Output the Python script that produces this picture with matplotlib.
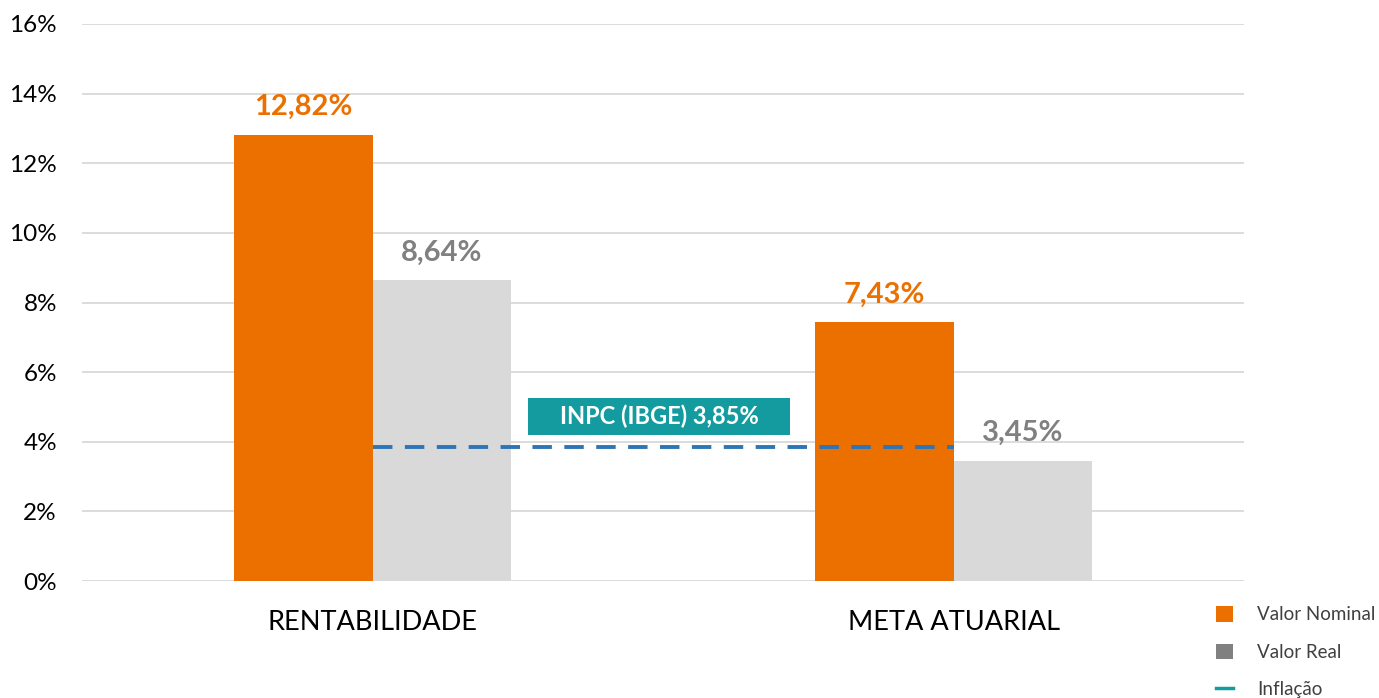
import matplotlib
matplotlib.use("Agg")
import matplotlib.pyplot as plt
from matplotlib.lines import Line2D
from matplotlib.patches import Patch, Rectangle
import numpy as np

plt.rcParams['font.family'] = ['Lato', 'DejaVu Sans']

categories = ["RENTABILIDADE", "META ATUARIAL"]
nominal = [12.82, 7.43]
real = [8.64, 3.45]
inflation = 3.85
inflation_label = "INPC (IBGE) 3,85%"
legend_labels = ["Valor Nominal", "Valor Real", "Inflação"]
yticks = [0, 2, 4, 6, 8, 10, 12, 14, 16]

ORANGE = "#EC7000"
GRAY = "#D9D9D9"
GRAY_TXT = "#808080"
TEAL = "#139BA0"
BLUE = "#2E75B6"

fig = plt.figure(figsize=(13.79, 6.98), dpi=100)
ax = fig.add_axes([82/1379, 1-581/698, (1244-82)/1379, (581-24)/698])

x = np.arange(len(categories))
w = 0.239
ax.bar(x - w/2, nominal, w, color=ORANGE, zorder=3)
ax.bar(x + w/2, real, w, color=GRAY, zorder=3)

def fmt(v):
    return f"{v:.2f}".replace(".", ",") + "%"

for xi, v in zip(x, nominal):
    ax.text(xi - w/2, v + 0.42, fmt(v), ha="center", va="bottom", color=ORANGE,
            fontsize=21, fontweight="bold")
for xi, v in zip(x, real):
    ax.text(xi + w/2, v + 0.42, fmt(v), ha="center", va="bottom", color=GRAY_TXT,
            fontsize=21, fontweight="bold")

ax.plot([x[0], x[1]], [inflation, inflation], color=BLUE, lw=2.8,
        dashes=(5, 3.2), zorder=4)
ax.add_patch(Rectangle((0.2676, 4.195), 0.451, 1.064, facecolor=TEAL,
                       edgecolor="none", zorder=5))
ax.text(0.4931, 4.72, inflation_label, ha="center", va="center", color="white",
        fontsize=17, fontweight="bold", zorder=6)

ax.set_xlim(-0.5, 1.5)
ax.set_ylim(0, 16)
ax.set_yticks(yticks)
ax.set_yticklabels([f"{t}%" for t in yticks], fontsize=17.5)
ax.set_xticks(x)
ax.set_xticklabels(categories, fontsize=19.5)
ax.tick_params(axis="both", length=0)
ax.tick_params(axis="y", pad=18)
ax.tick_params(axis="x", pad=21)
ax.grid(axis="y", color="#D9D9D9", lw=1.3, zorder=0)
for s in ax.spines.values():
    s.set_visible(False)

handles = [Patch(facecolor=ORANGE, edgecolor="none"),
           Patch(facecolor="#808080", edgecolor="none"),
           Line2D([0], [0], color=TEAL, lw=2.5)]
fig.legend(handles, legend_labels, loc="upper left", bbox_to_anchor=(1203/1379, 1-593/698),
           frameon=False, fontsize=13.5, handlelength=0.9, handleheight=0.9,
           labelspacing=1.08, handletextpad=1.3, labelcolor="#404040",
           borderpad=0.2)

fig.savefig("out.png", dpi=100)
